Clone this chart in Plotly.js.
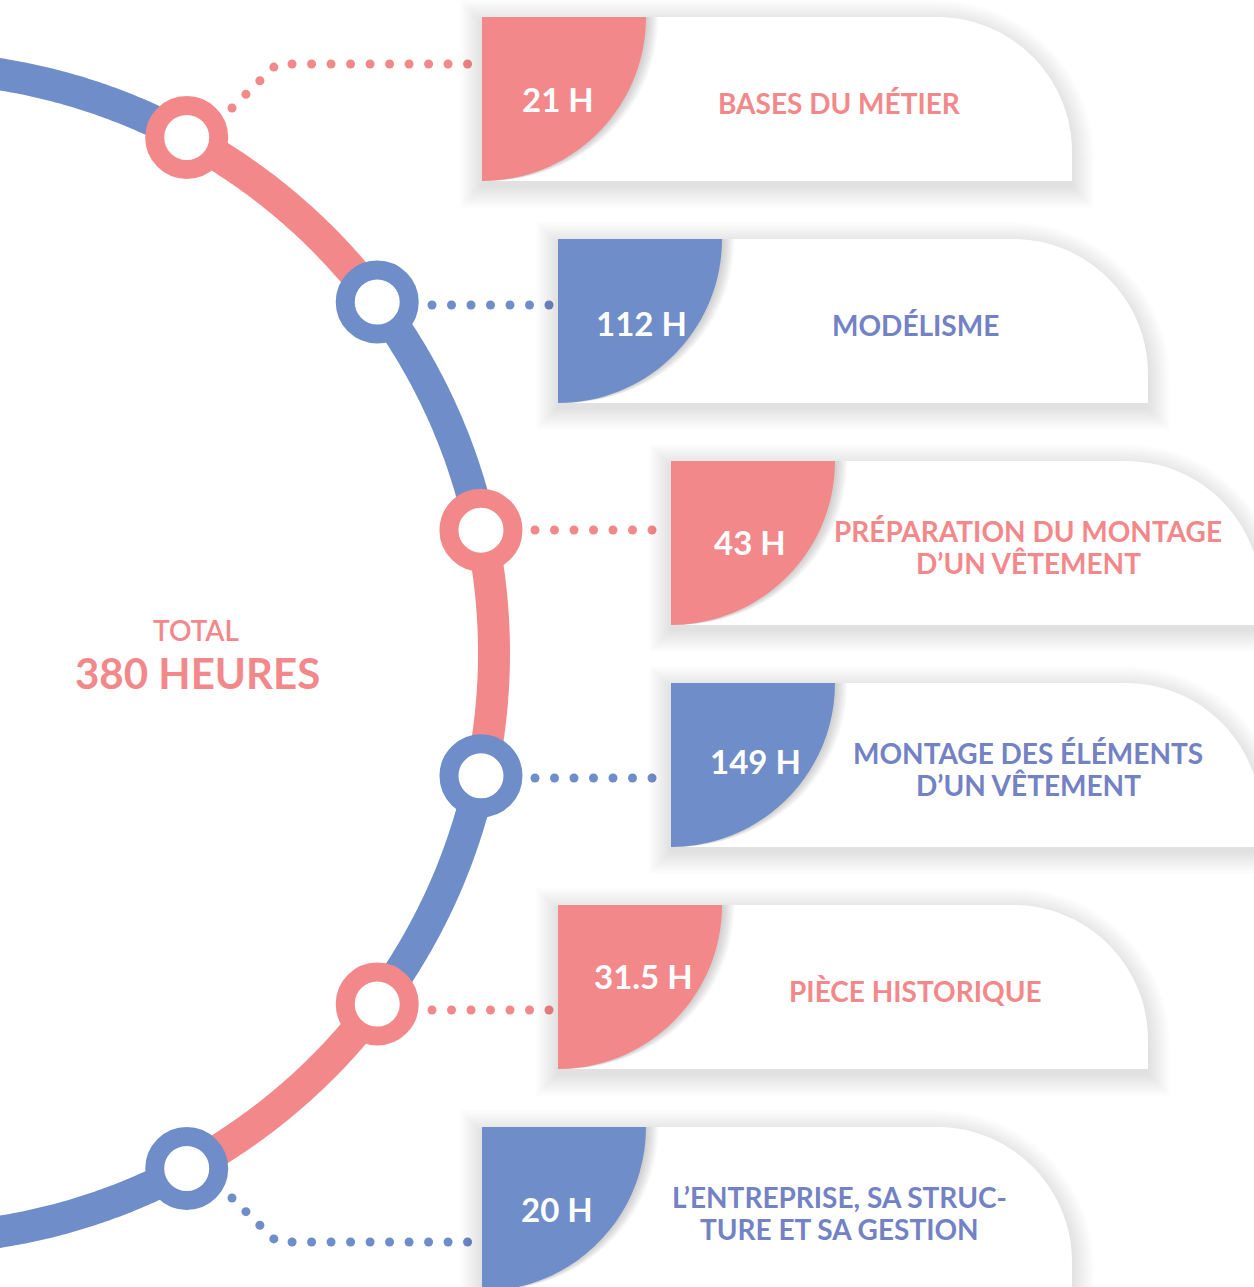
<!DOCTYPE html>
<html>
<head>
<meta charset="utf-8">
<script src="https://cdn.plot.ly/plotly-3.0.1.min.js"></script>
<style>
  html, body { margin: 0; padding: 0; background: #ffffff; }
  #chart { width: 1254px; height: 1287px; }
</style>
</head>
<body>
<div id="chart"></div>
<script>
// ---------- DATA ----------
const categories = [
  "BASES DU MÉTIER",
  "MODÉLISME",
  "PRÉPARATION DU MONTAGE<br>D’UN VÊTEMENT",
  "MONTAGE DES ÉLÉMENTS<br>D’UN VÊTEMENT",
  "PIÈCE HISTORIQUE",
  "L’ENTREPRISE, SA STRUC-<br>TURE ET SA GESTION"
];
const hours = [21, 112, 43, 149, 31.5, 20];
const hourLabels = ["21 H", "112 H", "43 H", "149 H", "31.5 H", "20 H"];
const totalLabel = "TOTAL";
const totalValue = "380 HEURES";
const colorKeys = ["pink", "blue", "pink", "blue", "pink", "blue"];

// ---------- STYLE / LAYOUT CONSTANTS ----------
const PINK = "#F3888A", BLUE = "#6F8DC8";
const TEXT_PINK = "#F3888A", TEXT_BLUE = "#7282C4";
const fill = k => (k === "pink" ? PINK : BLUE);
const textCol = k => (k === "pink" ? TEXT_PINK : TEXT_BLUE);

const CX = -92, CY = 653, R = 586;           // arc circle
const nodeAngles = [-61.6, -36.8, -12.1, 12.1, 36.8, 61.6]; // degrees
const arcStart = -86, arcEnd = 86;
const cardX = [482, 558, 671, 671, 558, 482];
const cardY = [17, 239, 461, 683, 905, 1127];
const CARD_W = 590, CARD_H = 164, CARD_R = 135, Q = 164;
const hourDX = [76, 83, 79, 84, 85, 75];
const hourDY = [82, 84, 81, 78, 71, 82];
const dotPaths = [
  [[232, 108], [277, 64], [482, 64]],
  [[432, 305], [558, 305]],
  [[535, 530], [671, 530]],
  [[535, 778], [671, 778]],
  [[432, 1010], [558, 1010]],
  [[232, 1198], [277, 1242], [482, 1242]]
];

const rad = d => d * Math.PI / 180;
const onArc = a => [CX + R * Math.cos(rad(a)), CY + R * Math.sin(rad(a))];

// ---------- TRACES ----------
const traces = [];

// dotted connectors (under cards)
dotPaths.forEach((pts, i) => {
  const xs = [], ys = [];
  const step = 19.5;
  let carry = 0;
  for (let s = 0; s < pts.length - 1; s++) {
    const [x0, y0] = pts[s], [x1, y1] = pts[s + 1];
    const L = Math.hypot(x1 - x0, y1 - y0);
    let t = carry;
    while (t <= L + 0.01) {
      xs.push(x0 + (x1 - x0) * t / L);
      ys.push(y0 + (y1 - y0) * t / L);
      t += step;
    }
    carry = t - L;
  }
  traces.push({
    type: "scatter", mode: "markers", x: xs, y: ys, hoverinfo: "skip",
    marker: { size: 9, color: fill(colorKeys[i]), line: { width: 0 } }
  });
});

// arc segments
const bounds = [arcStart, ...nodeAngles, arcEnd];
for (let s = 0; s < bounds.length - 1; s++) {
  const a0 = bounds[s], a1 = bounds[s + 1];
  const xs = [], ys = [];
  const n = Math.ceil(Math.abs(a1 - a0) * 3);
  for (let j = 0; j <= n; j++) {
    const p = onArc(a0 + (a1 - a0) * j / n);
    xs.push(p[0]); ys.push(p[1]);
  }
  const key = s === 0 ? "blue" : colorKeys[s - 1];
  traces.push({
    type: "scatter", mode: "lines", x: xs, y: ys, hoverinfo: "skip",
    line: { color: fill(key), width: 32, simplify: false }
  });
}

// nodes
nodeAngles.forEach((a, i) => {
  const p = onArc(a);
  traces.push({
    type: "scatter", mode: "markers", x: [p[0]], y: [p[1]], hoverinfo: "skip",
    marker: { size: 64, color: "#ffffff", line: { color: fill(colorKeys[i]), width: 19 } }
  });
});

// ---------- SHAPES (cards) ----------
const K = 0.5523;
function cardPath(x0, y0, e, dy) {
  const x1 = x0 + CARD_W, y1 = y0 + CARD_H;
  const r = CARD_R + e;
  const ccx = x1 - CARD_R, ccy = y0 + CARD_R;
  const T = y0 - e + dy, B = y1 + e + dy, Lx = x0 - e, Rx = x1 + e;
  return `M ${Lx},${T} L ${ccx},${T} C ${ccx + K * r},${T} ${Rx},${ccy + dy - K * r} ${Rx},${ccy + dy} L ${Rx},${B} L ${Lx},${B} Z`;
}
function quarterPath(x0, y0, dx) {
  const s = Q;
  return `M ${x0},${y0} L ${x0 + s + dx},${y0} C ${x0 + s + dx},${y0 + K * s} ${x0 + K * s + dx},${y0 + s} ${x0 + dx * 0.3},${y0 + s} L ${x0},${y0 + s} Z`;
}

const shapes = [];
cardX.forEach((x0, i) => {
  const y0 = cardY[i];
  // soft outer shadow
  for (let e = 22; e >= 1; e -= 1.5) {
    shapes.push({
      type: "path", path: cardPath(x0, y0, e, 5), layer: "above",
      fillcolor: "rgba(0,0,0,0.0065)", line: { width: 0 }
    });
  }
  // white card
  shapes.push({
    type: "path", path: cardPath(x0, y0, 0, 0), layer: "above",
    fillcolor: "#ffffff", line: { width: 0 }
  });
  // quarter shadow
  for (let d = 12; d >= 2; d -= 2) {
    shapes.push({
      type: "path", path: quarterPath(x0, y0, d), layer: "above",
      fillcolor: "rgba(60,60,60,0.045)", line: { width: 0 }
    });
  }
  // coloured quarter
  shapes.push({
    type: "path", path: quarterPath(x0, y0, 0), layer: "above",
    fillcolor: fill(colorKeys[i]), line: { width: 0 }
  });
});

// ---------- ANNOTATIONS ----------
const FONT = "Lato, 'Open Sans', sans-serif";
const LINE_GAP = 32;
const annotations = [];
categories.forEach((c, i) => {
  annotations.push({
    x: cardX[i] + hourDX[i], y: cardY[i] + hourDY[i], xref: "x", yref: "y",
    text: hourLabels[i], showarrow: false, xanchor: "center", yanchor: "middle",
    font: { family: FONT, size: 33, color: "#ffffff", weight: 700 }
  });
  const lines = c.split("<br>");
  lines.forEach((ln, j) => {
    annotations.push({
      x: cardX[i] + 357,
      y: cardY[i] + 86 + (j - (lines.length - 1) / 2) * LINE_GAP,
      xref: "x", yref: "y",
      text: ln, showarrow: false, xanchor: "center", yanchor: "middle",
      font: { family: FONT, size: 28, color: textCol(colorKeys[i]), weight: 700 }
    });
  });
});
annotations.push({
  x: 196, y: 630, xref: "x", yref: "y", text: totalLabel, showarrow: false,
  xanchor: "center", yanchor: "middle",
  font: { family: FONT, size: 28, color: TEXT_PINK, weight: 600 }
});
annotations.push({
  x: 197, y: 673, xref: "x", yref: "y", text: totalValue, showarrow: false,
  xanchor: "center", yanchor: "middle",
  font: { family: FONT, size: 42, color: TEXT_PINK, weight: 700 }
});

const layout = {
  width: 1254, height: 1287,
  margin: { l: 0, r: 0, t: 0, b: 0 },
  paper_bgcolor: "#ffffff", plot_bgcolor: "#ffffff",
  showlegend: false,
  xaxis: { range: [0, 1254], visible: false, fixedrange: true },
  yaxis: { range: [1287, 0], visible: false, fixedrange: true },
  shapes: shapes,
  annotations: annotations
};

Plotly.newPlot("chart", traces, layout, { staticPlot: true, displayModeBar: false });
</script>
</body>
</html>
